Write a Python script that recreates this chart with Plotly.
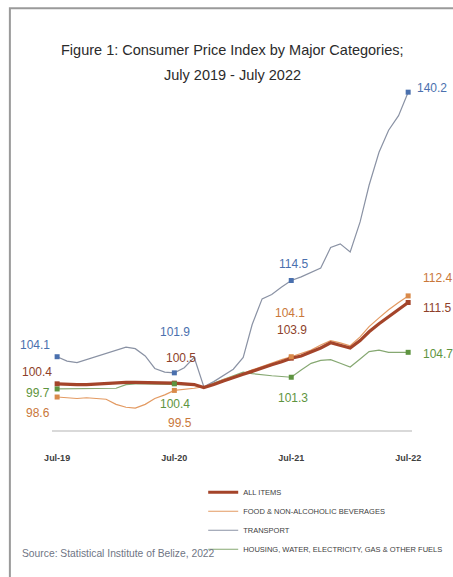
import pandas as pd
import plotly.graph_objects as go

months = pd.date_range("2019-07-01", "2022-07-01", freq="MS")
tick_vals = ["2019-07-01", "2020-07-01", "2021-07-01", "2022-07-01"]
tick_text = ["Jul-19", "Jul-20", "Jul-21", "Jul-22"]

all_items = [100.4, 100.3, 100.3, 100.3, 100.4, 100.4, 100.5, 100.6, 100.6, 100.6, 100.5, 100.5,
             100.5, 100.4, 100.3, 99.9, 100.3, 100.8, 101.2, 101.7, 102.1, 102.6, 103.0, 103.4,
             103.9, 104.2, 104.7, 105.3, 106.0, 105.7, 105.3, 106.3, 107.5, 108.6, 109.6, 110.5,
             111.5]
food = [98.6, 98.5, 98.4, 98.5, 98.4, 98.3, 97.6, 97.2, 97.1, 97.6, 98.4, 98.9,
        99.5, 99.6, 99.8, 100.0, 100.4, 101.0, 101.4, 101.8, 102.3, 102.8, 103.3, 103.7,
        104.1, 104.5, 105.0, 105.7, 106.3, 106.0, 105.6, 106.8, 108.2, 109.4, 110.5, 111.5,
        112.4]
transport = [104.1, 103.5, 103.3, 103.7, 104.1, 104.5, 105.0, 105.4, 105.2, 104.2, 102.5, 102.0,
             101.9, 102.6, 104.0, 100.0, 100.7, 101.5, 102.4, 104.0, 108.5, 112.0, 112.6, 113.6,
             114.5, 115.0, 115.6, 116.2, 119.0, 119.5, 118.4, 122.5, 127.5, 132.0, 135.0, 137.0,
             140.2]
housing = [99.7, 99.7, 99.7, 99.7, 99.7, 99.7, 99.8, 100.3, 100.4, 100.4, 100.4, 100.4,
           100.4, 100.3, 100.2, 99.9, 100.5, 101.0, 101.5, 102.0, 101.8, 101.6, 101.5, 101.4,
           101.3, 102.3, 103.2, 103.6, 103.7, 103.2, 102.7, 103.8, 104.8, 105.0, 104.7, 104.7,
           104.7]

series_names = ["ALL ITEMS", "FOOD & NON-ALCOHOLIC BEVERAGES", "TRANSPORT",
                "HOUSING, WATER, ELECTRICITY, GAS & OTHER FUELS"]
series_vals = [all_items, food, transport, housing]
line_colors = ["#A4442A", "#E39A62", "#8A92A4", "#86A872"]
line_widths = [3.2, 1.2, 1.2, 1.2]
label_colors = ["#8E3F2A", "#C9773A", "#4A70AE", "#5E9440"]
marker_colors = ["#A4442A", "#D98A4A", "#4A70AE", "#5E9440"]
label_idx = [0, 12, 24, 36]
# pixel offsets (xshift, yshift) for the point labels, per series per labelled month
label_offsets = [
    [(-20, 12), (7, 25), (1, 28), (29, -6)],
    [(-19, -16), (6, -33), (-1, 44), (29, 18)],
    [(-22, 12), (1, 41), (2, 17), (24, 4)],
    [(-19, -4), (1, -20), (2, -21), (30, -2)],
]

FONT = "Liberation Sans, Arial, sans-serif"

fig = go.Figure()
order = [3, 2, 1, 0]
for k in order:
    fig.add_trace(go.Scatter(
        x=months, y=series_vals[k], mode="lines", name=series_names[k],
        line=dict(color=line_colors[k], width=line_widths[k]),
        showlegend=False, hoverinfo="skip"))
for k in range(4):
    fig.add_trace(go.Scatter(
        x=[months[i] for i in label_idx], y=[series_vals[k][i] for i in label_idx],
        mode="markers", marker=dict(symbol="square", size=5, color=marker_colors[k]),
        showlegend=False, hoverinfo="skip"))
# legend entries
for k in range(4):
    fig.add_trace(go.Scatter(
        x=[None], y=[None], mode="lines", name=series_names[k],
        line=dict(color=line_colors[k], width=line_widths[k])))

annotations = []
for k in range(4):
    for j, i in enumerate(label_idx):
        dx, dy = label_offsets[k][j]
        annotations.append(dict(
            x=months[i], y=series_vals[k][i], xref="x", yref="y",
            text=f"{series_vals[k][i]:.1f}", showarrow=False,
            xshift=dx, yshift=dy,
            font=dict(family=FONT, size=12, color=label_colors[k])))

annotations.append(dict(text="Figure 1: Consumer Price Index by Major Categories;",
                        x=0.5, y=1.019, xref="paper", yref="paper", showarrow=False,
                        xanchor="center", yanchor="middle",
                        font=dict(family=FONT, size=14.5, color="#2B2B2B")))
annotations.append(dict(text="July 2019 - July 2022",
                        x=0.5, y=0.952, xref="paper", yref="paper", showarrow=False,
                        xanchor="center", yanchor="middle",
                        font=dict(family=FONT, size=14.5, color="#2B2B2B")))
annotations.append(dict(text="Source: Statistical Institute of Belize, 2022",
                        x=-0.09, y=-0.331, xref="paper", yref="paper", showarrow=False,
                        xanchor="left", yanchor="middle",
                        font=dict(family=FONT, size=10.3, color="#6F7584")))

fig.update_layout(
    width=453, height=577,
    margin=dict(l=52, r=41, t=57, b=147, autoexpand=False),
    paper_bgcolor="white", plot_bgcolor="white",
    annotations=annotations,
    showlegend=True,
    legend=dict(x=0.42, y=-0.128, xanchor="left", yanchor="top",
                font=dict(family=FONT, size=7.5, color="#404040"),
                itemwidth=30, bgcolor="rgba(0,0,0,0)"),
    shapes=[dict(type="rect", xref="paper", yref="paper",
                 x0=-0.117, y0=1.131, x1=1.2, y1=-0.5,
                 line=dict(color="#9A9A9A", width=2), layer="below")],
    xaxis=dict(type="date", range=["2019-06-15", "2022-07-13"],
               tickvals=tick_vals, ticktext=[f"<b>{t}</b>" for t in tick_text],
               tickfont=dict(family=FONT, size=9, color="#404040"),
               showgrid=False, zeroline=False, showline=True,
               linecolor="#D9D9D9", linewidth=1.5, ticks="",
               ticklabelstandoff=18),
    yaxis=dict(range=[94.1, 145], visible=False, showgrid=False, zeroline=False),
)

fig.write_html("out.html", config={"displayModeBar": False},
               post_script="document.body.style.margin='0';document.body.style.overflow='hidden';")
